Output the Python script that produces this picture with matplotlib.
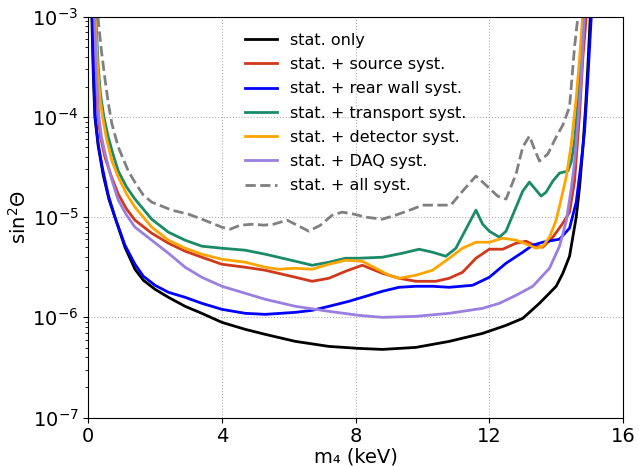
'''
Sterile neutrino sensitivity: stat. only vs. individual systematics
'''
import numpy as np
import matplotlib
matplotlib.use('Agg')
import matplotlib.pyplot as plt

# values, y stored as log10(sin^2 Theta)
x_stat = [0.11, 0.15, 0.20, 0.30, 0.45, 0.62, 0.80, 1.1, 1.4, 1.65, 2.0, 2.4, 2.9, 3.4, 4.0, 4.7, 5.3,
          6.2, 7.2, 8.1, 8.8, 9.8, 10.8, 11.8, 12.5, 13.0, 13.5, 14.0, 14.2, 14.4, 14.6, 14.7, 14.8,
          14.88, 14.95, 15.02]
y_stat = [-3.0, -3.55, -4.0, -4.29, -4.58, -4.82, -5.0, -5.30, -5.52, -5.63, -5.72, -5.80, -5.89, -5.96,
          -6.05, -6.12, -6.17, -6.24, -6.29, -6.31, -6.32, -6.30, -6.24, -6.16, -6.08, -6.01, -5.86,
          -5.69, -5.56, -5.39, -5.0, -4.7, -4.3, -3.9, -3.48, -3.0]

x_source = [0.17, 0.23, 0.30, 0.37, 0.50, 0.70, 0.90, 1.15, 1.4, 1.9, 2.4, 2.9, 3.4, 4.0, 4.7, 5.3,
            6.2, 6.7, 7.2, 7.7, 8.2, 8.8, 9.3, 9.8, 10.4, 10.8, 11.2, 11.6, 12.0, 12.4, 12.8, 13.1,
            13.4, 13.6, 13.9, 14.2, 14.4, 14.55, 14.7, 14.8, 14.9]
y_source = [-3.0, -3.6, -4.0, -4.2, -4.4, -4.6, -4.77, -4.92, -5.03, -5.16, -5.26, -5.34, -5.40, -5.47,
            -5.50, -5.53, -5.60, -5.64, -5.61, -5.54, -5.48, -5.56, -5.61, -5.64, -5.64, -5.61, -5.55,
            -5.41, -5.32, -5.32, -5.26, -5.24, -5.29, -5.30, -5.20, -5.06, -4.95, -4.64, -3.97,
            -3.4, -3.0]

x_rear = [0.12, 0.16, 0.21, 0.30, 0.42, 0.60, 0.80, 1.1, 1.4, 1.65, 2.0, 2.4, 2.9, 3.4, 4.0, 4.7, 5.3,
          6.2, 6.7, 7.2, 7.8, 8.3, 8.8, 9.3, 9.8, 10.3, 10.8, 11.5, 12.0, 12.5, 13.0, 13.3, 13.6,
          14.1, 14.4, 14.6, 14.75, 14.85, 14.95, 15.05]
y_rear = [-3.0, -3.55, -4.0, -4.27, -4.5, -4.78, -5.0, -5.28, -5.47, -5.59, -5.68, -5.75, -5.80, -5.86,
          -5.92, -5.96, -5.97, -5.95, -5.93, -5.89, -5.84, -5.79, -5.74, -5.70, -5.69, -5.69, -5.70,
          -5.68, -5.60, -5.46, -5.35, -5.28, -5.25, -5.22, -5.11, -4.85, -4.45, -4.14, -3.6, -3.0]

x_transport = [0.23, 0.30, 0.37, 0.47, 0.60, 0.75, 0.90, 1.15, 1.4, 1.9, 2.4, 2.9, 3.4, 4.0, 4.7,
               5.3, 6.2, 6.7, 7.2, 7.7, 8.1, 8.8, 9.4, 9.9, 10.3, 10.7, 11.0, 11.3, 11.6, 11.8,
               12.0, 12.3, 12.5, 12.8, 13.0, 13.2, 13.4, 13.55, 13.7, 13.9, 14.1, 14.35, 14.45,
               14.55, 14.65, 14.75, 14.83]
y_transport = [-3.0, -3.5, -3.78, -4.0, -4.2, -4.38, -4.54, -4.70, -4.82, -5.02, -5.15, -5.23, -5.29,
               -5.31, -5.33, -5.37, -5.44, -5.48, -5.45, -5.41, -5.41, -5.40, -5.36, -5.32, -5.35,
               -5.39, -5.31, -5.12, -4.93, -5.07, -5.14, -5.20, -5.14, -4.90, -4.74, -4.65, -4.73,
               -4.79, -4.75, -4.64, -4.56, -4.54, -4.45, -4.24, -3.85, -3.4, -3.0]

x_detector = [0.21, 0.28, 0.35, 0.43, 0.55, 0.71, 0.90, 1.15, 1.4, 1.9, 2.4, 2.9, 3.4, 4.0, 4.7, 5.3,
              5.7, 6.2, 6.7, 7.2, 7.7, 8.2, 8.6, 9.0, 9.3, 9.8, 10.3, 10.8, 11.2, 11.6, 12.0, 12.4,
              12.8, 13.2, 13.4, 13.6, 13.8, 14.0, 14.15, 14.3, 14.45, 14.6, 14.7, 14.79]
y_detector = [-3.0, -3.5, -3.8, -4.0, -4.22, -4.44, -4.60, -4.77, -4.90, -5.10, -5.23, -5.31, -5.37,
              -5.42, -5.45, -5.50, -5.52, -5.51, -5.52, -5.47, -5.43, -5.44, -5.51, -5.58, -5.61,
              -5.58, -5.53, -5.41, -5.31, -5.25, -5.25, -5.21, -5.23, -5.28, -5.31, -5.29, -5.20,
              -5.03, -4.82, -4.6, -4.28, -3.81, -3.42, -3.0]

x_daq = [0.19, 0.25, 0.32, 0.40, 0.51, 0.70, 0.90, 1.15, 1.4, 1.9, 2.4, 2.9, 3.4, 4.0, 4.7, 5.3, 6.2,
         7.2, 8.1, 8.8, 9.8, 10.8, 11.8, 12.3, 12.8, 13.3, 13.8, 14.1, 14.3, 14.45, 14.55, 14.65,
         14.75, 14.84]
y_daq = [-3.0, -3.6, -4.0, -4.2, -4.37, -4.62, -4.83, -4.98, -5.10, -5.23, -5.36, -5.50, -5.60, -5.69,
         -5.76, -5.82, -5.89, -5.94, -5.98, -6.0, -5.99, -5.96, -5.91, -5.86, -5.78, -5.69, -5.51,
         -5.29, -5.04, -4.72, -4.45, -4.05, -3.62, -3.0]

x_all = [0.29, 0.40, 0.51, 0.60, 0.71, 0.90, 1.2, 1.45, 1.65, 1.9, 2.5, 3.0, 3.4, 4.0, 4.25, 4.55,
         4.95, 5.25, 5.55, 5.95, 6.25, 6.6, 6.95, 7.3, 7.6, 7.95, 8.3, 8.8, 9.2, 9.7, 10.0, 10.4,
         10.85, 11.2, 11.6, 11.9, 12.25, 12.5, 12.8, 13.0, 13.2, 13.35, 13.5, 13.75, 14.0, 14.2,
         14.4, 14.55, 14.65]
y_all = [-3.0, -3.35, -3.64, -3.86, -4.07, -4.30, -4.54, -4.68, -4.78, -4.85, -4.93, -4.97, -5.02,
         -5.10, -5.12, -5.08, -5.07, -5.08, -5.07, -5.03, -5.08, -5.14, -5.08, -4.98, -4.95, -4.97,
         -5.00, -5.02, -4.98, -4.92, -4.88, -4.88, -4.88, -4.74, -4.59, -4.68, -4.79, -4.82, -4.57,
         -4.30, -4.19, -4.32, -4.44, -4.37, -4.20, -4.08, -3.9, -3.3, -3.0]

labels = ['stat. only', 'stat. + source syst.', 'stat. + rear wall syst.',
          'stat. + transport syst.', 'stat. + detector syst.', 'stat. + DAQ syst.',
          'stat. + all syst.']

fig = plt.figure(figsize=(6.39, 4.66), dpi=100)
ax = fig.add_axes([0.138, 0.104, 0.837, 0.860])

ax.plot(x_stat, 10**np.array(y_stat), color='black', lw=2, label=labels[0])
ax.plot(x_source, 10**np.array(y_source), color='#d0391b', lw=2, label=labels[1])
ax.plot(x_rear, 10**np.array(y_rear), color='#0000ff', lw=2, label=labels[2])
ax.plot(x_transport, 10**np.array(y_transport), color='#1a8a68', lw=2, label=labels[3])
ax.plot(x_detector, 10**np.array(y_detector), color='#ffa500', lw=2, label=labels[4])
ax.plot(x_daq, 10**np.array(y_daq), color='#9b7fe0', lw=2, label=labels[5])
ax.plot(x_all, 10**np.array(y_all), color='#808080', lw=2, ls='--', label=labels[6])

ax.set_yscale('log')
ax.set_xlim(0, 16)
ax.set_ylim(1e-7, 1e-3)
ax.set_xticks([0, 4, 8, 12, 16])
ax.tick_params(labelsize=14)
ax.set_xlabel('m\u2084 (keV)', fontsize=14, labelpad=1)
ax.set_ylabel('sin$^2\\Theta$', fontsize=14, labelpad=2)
ax.grid(which='major', ls=':', color='#b0b0b0', lw=0.8)
ax.legend(loc='upper center', frameon=False, fontsize=11.5, labelspacing=0.58,
          borderaxespad=0.6)

plt.savefig('out.png', dpi=100)
